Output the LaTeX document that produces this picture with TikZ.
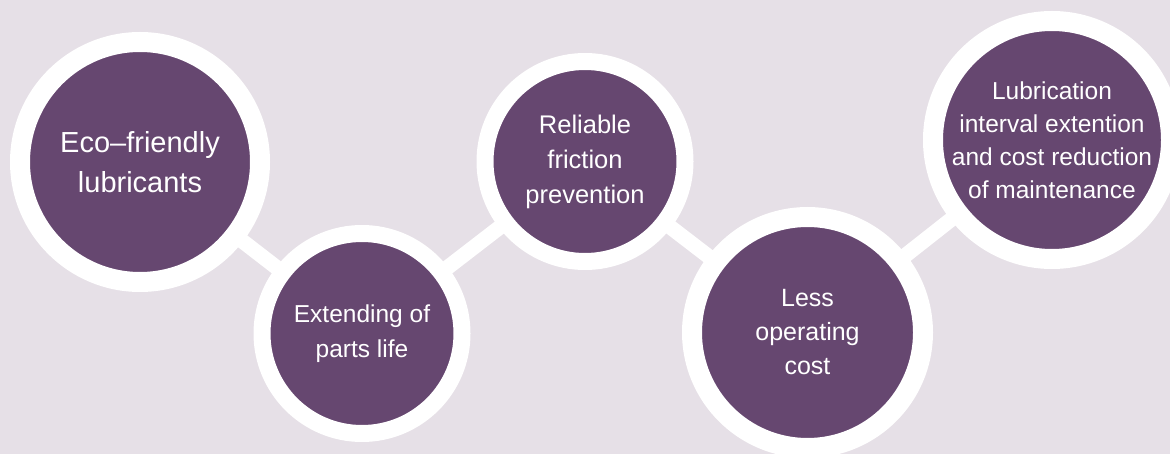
\documentclass[tikz,border=0pt]{standalone}
\usepackage{fontspec}
\setmainfont{Liberation Sans}
\definecolor{bgmist}{HTML}{E6E0E7}
\definecolor{plum}{HTML}{664770}
\begin{document}
\begin{tikzpicture}[x=1pt, y=-1pt,
    bubble/.style={circle, fill=plum, draw=white, inner sep=0pt},
    bubbletext/.style={text=white, align=center, inner sep=0pt},
    link/.style={draw=white, line width=15pt, shorten <=-6pt, shorten >=-6pt}]
    \useasboundingbox (0,0) rectangle (1170,454);
    \fill[bgmist] (0,0) rectangle (1170,454);

    % circles: name / centre / size / ring width
    \foreach \n/\x/\y/\d/\w in {eco/140/162/240/20, parts/362/333.5/200/17,
        friction/585/161.5/200/17, cost/807.5/332.5/231/20, maint/1052/140/238/20}
        \node[bubble, minimum size=\d pt, line width=\w pt] (\n) at (\x,\y) {};

    % white links between the circles
    \draw[link] (eco) -- (parts);
    \draw[link] (parts) -- (friction);
    \draw[link] (friction) -- (cost);
    \draw[link] (cost) -- (maint);

    \node[bubbletext, font=\fontsize{29}{40}\selectfont] (ecotext) at (eco) {Eco–friendly\\lubricants};
    \node[bubbletext, font=\fontsize{24.5}{35}\selectfont] (partstext) at (parts) {Extending of\\parts life};
    \node[bubbletext, font=\fontsize{25.5}{35}\selectfont] (frictiontext) at (friction) {Reliable\\friction\\prevention};
    \node[bubbletext, font=\fontsize{25}{34}\selectfont] (costtext) at (cost) {Less\\operating\\cost};
    \node[bubbletext, font=\fontsize{24.5}{33}\selectfont] (mainttext) at (maint) {Lubrication\\interval extention\\and cost reduction\\of maintenance};
\end{tikzpicture}
\end{document}
